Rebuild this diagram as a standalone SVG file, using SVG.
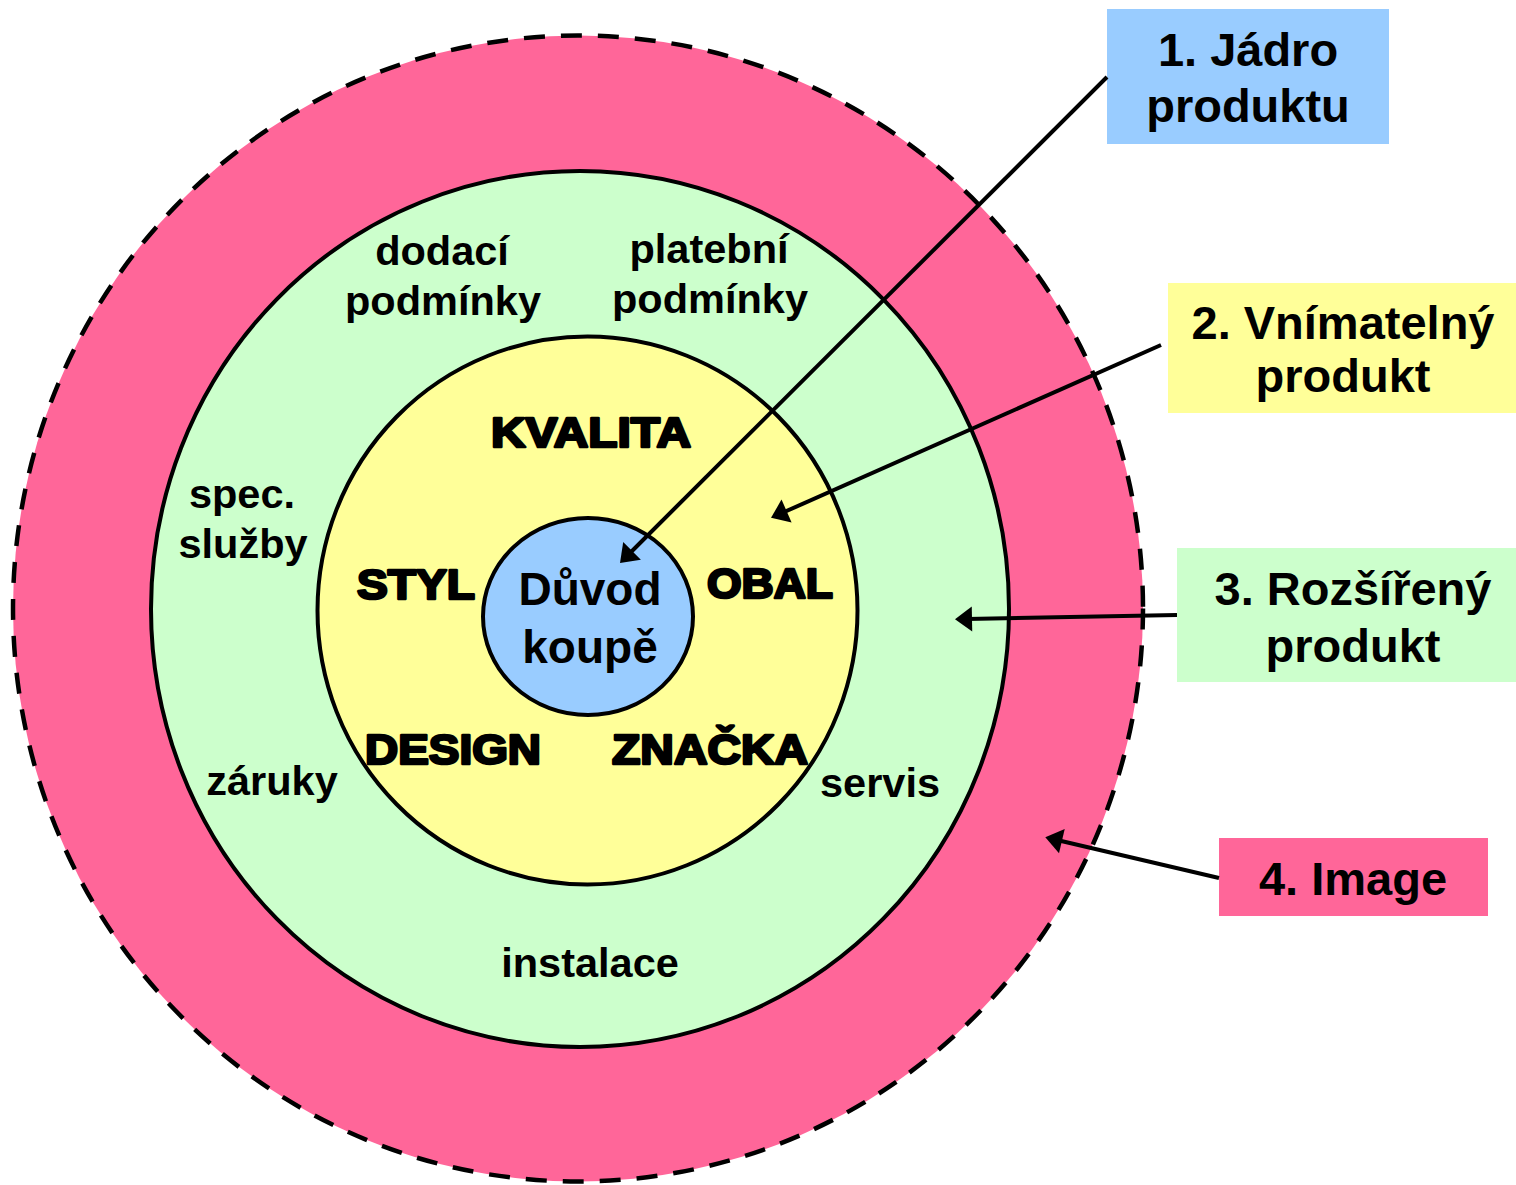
<svg xmlns="http://www.w3.org/2000/svg" width="1516" height="1185" viewBox="0 0 1516 1185">
<style>
.lbl{font-family:"Liberation Sans",Arial,sans-serif;font-weight:bold;fill:#000;text-anchor:middle}
.ring{font-size:41.5px}
.box{font-size:47px}
.heavy{font-size:42px;stroke:#000;stroke-width:2.6;stroke-linejoin:round}
.solid{stroke:#000;stroke-width:4}
.conn{stroke:#000;stroke-width:4;fill:none;marker-end:url(#ah)}
</style>
<defs>
<marker id="ah" markerUnits="userSpaceOnUse" viewBox="-6 -14 20 28" refX="0" refY="0" markerWidth="20" markerHeight="28" orient="auto">
<path d="M12,0 L-5,-12.5 L-5,12.5 Z" fill="#000"/>
</marker>
</defs>
<rect width="1516" height="1185" fill="#fff"/>
<g id="ring-image">
<ellipse cx="578" cy="608.5" rx="565" ry="573" fill="#FF6699" stroke="#000" stroke-width="4.5" stroke-dasharray="21 16"/>
</g>
<g id="ring-extended">
<ellipse class="solid" cx="580" cy="609" rx="429" ry="438" fill="#CCFFCC"/>
<text class="lbl ring" x="442" y="265">dodací</text>
<text class="lbl ring" x="443" y="315">podmínky</text>
<text class="lbl ring" x="709" y="263">platební</text>
<text class="lbl ring" x="710" y="313">podmínky</text>
<text class="lbl ring" x="242" y="508">spec.</text>
<text class="lbl ring" x="243" y="558">služby</text>
<text class="lbl ring" x="272" y="795">záruky</text>
<text class="lbl ring" x="880" y="797">servis</text>
<text class="lbl ring" x="590" y="977">instalace</text>
</g>
<g id="ring-perceived">
<ellipse class="solid" cx="587.5" cy="610.5" rx="270" ry="274" fill="#FFFF99"/>
<text class="lbl heavy" x="591" y="447" textLength="200" lengthAdjust="spacingAndGlyphs">KVALITA</text>
<text class="lbl heavy" x="416" y="599" textLength="118" lengthAdjust="spacingAndGlyphs">STYL</text>
<text class="lbl heavy" x="770" y="598" textLength="126" lengthAdjust="spacingAndGlyphs">OBAL</text>
<text class="lbl heavy" x="453" y="764" textLength="176" lengthAdjust="spacingAndGlyphs">DESIGN</text>
<text class="lbl heavy" x="710" y="764" textLength="196" lengthAdjust="spacingAndGlyphs">ZNAČKA</text>
</g>
<g id="core">
<ellipse class="solid" cx="588" cy="616.5" rx="105" ry="98.5" fill="#99CCFF"/>
<text class="lbl" font-size="46" x="590" y="605">Důvod</text>
<text class="lbl" font-size="46" x="590" y="663">koupě</text>
</g>
<g id="box1">
<rect x="1107" y="9" width="282" height="135" fill="#99CCFF"/>
<text class="lbl box" x="1248" y="66">1. Jádro</text>
<text class="lbl box" x="1248" y="122">produktu</text>
</g>
<g id="box2">
<rect x="1168" y="283" width="348" height="130" fill="#FFFF99"/>
<text class="lbl box" x="1343" y="339">2. Vnímatelný</text>
<text class="lbl box" x="1343" y="392">produkt</text>
</g>
<g id="box3">
<rect x="1177" y="548" width="339" height="134" fill="#CCFFCC"/>
<text class="lbl box" x="1353" y="605">3. Rozšířený</text>
<text class="lbl box" x="1353" y="662">produkt</text>
</g>
<g id="box4">
<rect x="1219" y="838" width="269" height="78" fill="#FF6699"/>
<text class="lbl box" x="1353" y="895">4. Image</text>
</g>
<g id="connectors">
<path class="conn" d="M1107,77 L628.5,554.5"/>
<path class="conn" d="M1161,345 L782,513"/>
<path class="conn" d="M1177,615 L967,619"/>
<path class="conn" d="M1219,878 L1057,840"/>
</g>
</svg>
